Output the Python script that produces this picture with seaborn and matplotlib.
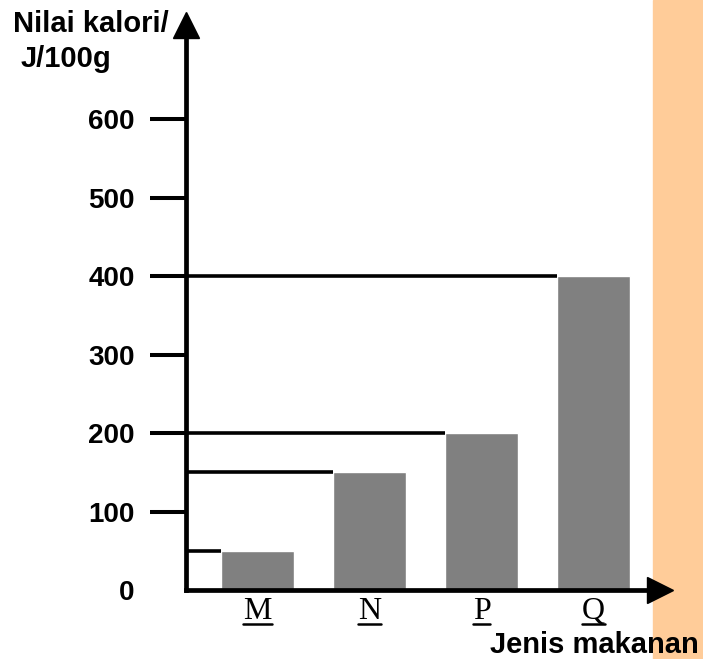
import pandas as pd
import matplotlib.pyplot as plt
import seaborn as sns
from matplotlib.patches import Rectangle
from matplotlib.lines import Line2D

# --- data ---
foods = ['M', 'N', 'P', 'Q']
calories = [50, 150, 200, 400]
yticks = [0, 100, 200, 300, 400, 500, 600]

sns.set_style('white')
plt.rcParams['font.family'] = ['Liberation Sans', 'DejaVu Sans']
plt.rcParams['text.color'] = 'black'
plt.rcParams['xtick.color'] = 'black'
plt.rcParams['ytick.color'] = 'black'

df = pd.DataFrame({'food': foods, 'cal': calories})

fig = plt.figure(figsize=(7.03, 6.59), dpi=100)
# orange strip on the right edge of the page
fig.patches.append(Rectangle((653 / 703, 0), 50 / 703, 1, transform=fig.transFigure,
                             color='#FFCC99', zorder=-10))
ax = fig.add_axes([186 / 703, 69 / 659, 474 / 703, 565 / 659])
ax.patch.set_visible(False)

bw = 0.65
sns.barplot(data=df, x='food', y='cal', color='#808080', saturation=1,
            width=bw, ax=ax, zorder=2)

# reference lines from the y axis to each bar
x0 = -0.638
ax.hlines(df['cal'], x0, df.index - bw / 2, color='black', lw=2.6, zorder=3)

ax.set_xlim(x0, 3.594)
ax.set_ylim(0, 720)

for s in ['top', 'right']:
    ax.spines[s].set_visible(False)
for s in ['left', 'bottom']:
    ax.spines[s].set_linewidth(3.4)
    ax.spines[s].set_color('black')
    ax.spines[s].set_zorder(5)

# arrow heads
ax.plot([0], [1], marker='^', ms=19, color='black', transform=ax.transAxes, clip_on=False, zorder=6)
ax.plot([1], [0], marker='>', ms=19, color='black', transform=ax.transAxes, clip_on=False, zorder=6)

ax.set_yticks(yticks)
ax.set_yticklabels([str(v) for v in yticks], fontsize=20, fontweight='bold')
ax.tick_params(axis='y', length=26, width=2.9, pad=11, color='black', left=True)
ax.yaxis.get_major_ticks()[0].tick1line.set_visible(False)

ax.set_xticks(range(len(foods)))
ax.set_xticklabels(foods, fontsize=23, family='Liberation Serif')
ax.tick_params(axis='x', length=0, pad=5)
ax.set_xlabel('')
ax.set_ylabel('')

fig.text(13 / 703, 1 - 24 / 659, 'Nilai kalori/', fontsize=21, fontweight='bold', va='center', ha='left')
fig.text(21 / 703, 1 - 59 / 659, 'J/100g', fontsize=21, fontweight='bold', va='center', ha='left')
fig.text(699 / 703, 1 - 645 / 659, 'Jenis makanan', fontsize=21, fontweight='bold', va='center', ha='right')

# underline the category labels
fig.canvas.draw()
r = fig.canvas.get_renderer()
for lab in ax.get_xticklabels():
    bb = lab.get_window_extent(r)
    yy = bb.y0 + 2
    fig.add_artist(Line2D([bb.x0 / 703, bb.x1 / 703], [yy / 659, yy / 659],
                          transform=fig.transFigure, color='black', lw=1.8))

fig.savefig('out.png', dpi=100)
